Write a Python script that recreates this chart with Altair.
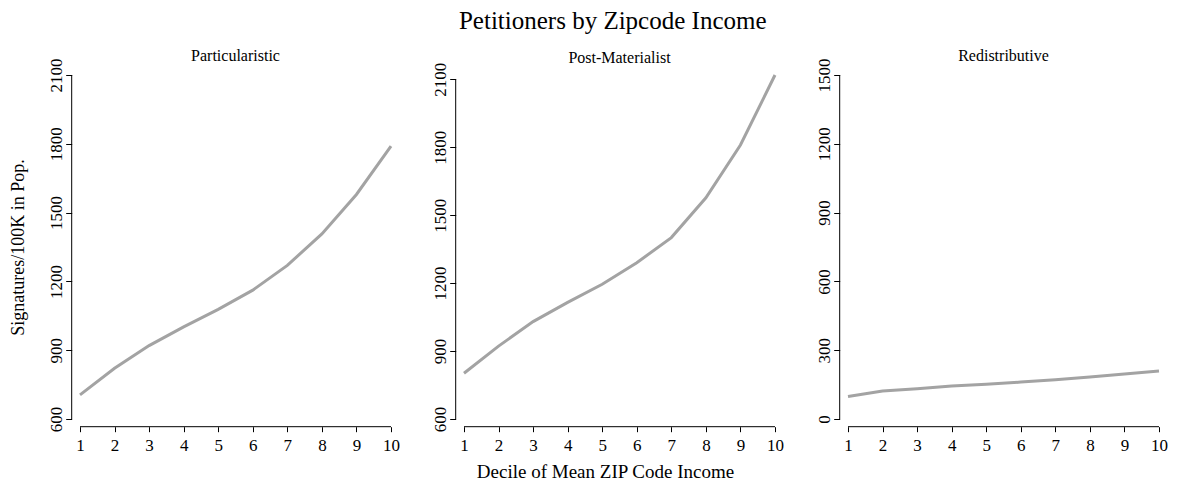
import altair as alt
import pandas as pd

deciles = list(range(1, 11))
particularistic = [705, 821, 920, 1002, 1078, 1162, 1270, 1407, 1579, 1790]
post_materialist = [802, 922, 1030, 1115, 1195, 1290, 1401, 1577, 1810, 2119]
redistributive = [98, 122, 132, 144, 151, 161, 171, 183, 196, 209]

panel_titles = ["Particularistic", "Post-Materialist", "Redistributive"]
y_domains = [[600, 2100], [600, 2119], [0, 1500]]
y_ticks = [[600, 900, 1200, 1500, 1800, 2100],
           [600, 900, 1200, 1500, 1800, 2100],
           [0, 300, 600, 900, 1200, 1500]]
series = [particularistic, post_materialist, redistributive]
title_offsets = [-19, -17, -19]

FONT = "Liberation Serif"
W, H = 311, 344
YOFF, XOFF = 8.3, 7.7
LINE_COLOR = "#a3a3a3"


def panel(i):
    df = pd.DataFrame({"decile": deciles, "value": series[i]})
    yaxis_title = "Signatures/100K in Pop." if i == 0 else None
    xaxis_title = "Decile of Mean ZIP Code Income" if i == 1 else None
    xscale = alt.Scale(domain=[1, 10], nice=False, zero=False)
    yscale = alt.Scale(domain=y_domains[i], nice=False, zero=False)
    x_axis_kwargs = dict(values=deciles, format="d", domain=False, tickSize=5, labelPadding=19,
                         labelBaseline="alphabetic", offset=XOFF, grid=False,
                         labelFlush=False, labelOverlap=False)
    if xaxis_title:
        x_axis_kwargs.update(title=xaxis_title, titleX=141, titleY=50.5,
                             titleBaseline="alphabetic", titleAnchor="start",
                             titleAlign="center", titleFontSize=19)
    else:
        x_axis_kwargs.update(title=None)
    y_axis_kwargs = dict(values=y_ticks[i], format="d", domain=False, tickSize=6, labelPadding=4,
                         labelAngle=270, labelAlign="center", labelBaseline="alphabetic",
                         offset=YOFF, grid=False, labelFlush=False, labelOverlap=False)
    if yaxis_title:
        y_axis_kwargs.update(title=yaxis_title, titleX=-47.7, titleY=172,
                             titleAngle=270, titleAlign="center",
                             titleBaseline="alphabetic", titleAnchor="start",
                             titleFontSize=18)
    else:
        y_axis_kwargs.update(title=None)
    xaxis = alt.Axis(**x_axis_kwargs)
    yaxis = alt.Axis(**y_axis_kwargs)

    line = alt.Chart(df).mark_line(color=LINE_COLOR, strokeWidth=3).encode(
        x=alt.X("decile:Q", scale=xscale, axis=xaxis),
        y=alt.Y("value:Q", scale=yscale, axis=yaxis),
    )
    yline_df = pd.DataFrame({"lo": [y_ticks[i][0]], "hi": [y_ticks[i][-1]]})
    yline = alt.Chart(yline_df).mark_rule(color="black", strokeWidth=1).encode(
        x=alt.value(-YOFF), y=alt.Y("lo:Q", scale=yscale, axis=yaxis), y2="hi:Q"
    )
    xline_df = pd.DataFrame({"lo": [deciles[0]], "hi": [deciles[-1]]})
    xline = alt.Chart(xline_df).mark_rule(color="black", strokeWidth=1).encode(
        y=alt.value(H + XOFF), x=alt.X("lo:Q", scale=xscale, axis=xaxis), x2="hi:Q"
    )
    return alt.layer(line, yline, xline).properties(
        width=W, height=H,
        title=alt.TitleParams(panel_titles[i], fontSize=16, font=FONT,
                              fontWeight="normal", baseline="alphabetic",
                              offset=title_offsets[i], anchor="middle", color="black"),
    )


chart = alt.hconcat(panel(0), panel(1), panel(2), spacing=73, bounds="flush").properties(
    title=alt.TitleParams("Petitioners by Zipcode Income", fontSize=25, font=FONT,
                          fontWeight="normal", anchor="middle", dx=24, offset=14.3,
                          color="black"),
    padding={"left": 1, "top": 0, "right": 0, "bottom": 0},
    background="white",
).configure_view(stroke=None).configure_axis(
    labelFont=FONT, titleFont=FONT, labelFontSize=17, labelColor="black",
    titleColor="black", titleFontWeight="normal", tickColor="black", tickWidth=1,
)

chart.save("out.html", embed_options={"renderer": "svg", "actions": False})
